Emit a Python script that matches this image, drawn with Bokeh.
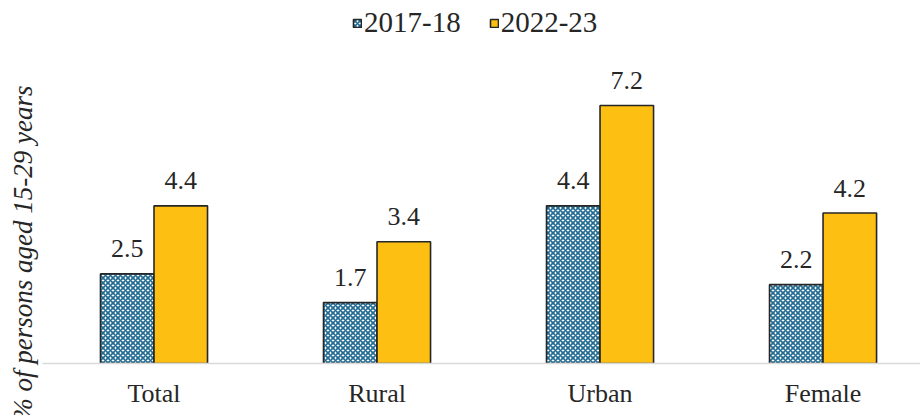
from bokeh.plotting import figure
from bokeh.models import (ColumnDataSource, Range1d, FixedTicker, Legend, LegendItem, Title)
from bokeh.core.properties import value
from bokeh.embed import file_html
from bokeh.resources import INLINE

categories = ["Total", "Rural", "Urban", "Female"]
series_names = ["2017-18", "2022-23"]
values_2017 = [2.5, 1.7, 4.4, 2.2]
values_2022 = [4.4, 3.4, 7.2, 4.2]
y_label = "% of persons aged 15-29 years"

FONT = "Liberation Serif"
BAR_W = 0.24
idx = list(range(len(categories)))

src_a = ColumnDataSource(dict(x=[i - BAR_W / 2 for i in idx], top=values_2017,
                              lbl=[f"{v:.1f}" for v in values_2017]))
src_b = ColumnDataSource(dict(x=[i + BAR_W / 2 for i in idx], top=values_2022,
                              lbl=[f"{v:.1f}" for v in values_2022]))

p = figure(width=920, height=415, output_backend="svg", toolbar_location=None,
           x_range=Range1d(-0.5, 3.437), y_range=Range1d(0, 10.131),
           min_border_left=42, min_border_right=0, min_border_top=0, min_border_bottom=52)
p.outline_line_color = None
p.background_fill_color = "white"
p.border_fill_color = "white"
p.xgrid.visible = False
p.ygrid.visible = False
p.yaxis.visible = False

r1 = p.vbar(x="x", top="top", width=BAR_W, source=src_a, fill_color="white",
            hatch_pattern="diagonal_cross", hatch_color="#216b93", hatch_scale=5, hatch_weight=1.7,
            line_color="#262626", line_width=1.6)
r2 = p.vbar(x="x", top="top", width=BAR_W, source=src_b, fill_color="#FCBF12",
            line_color="#262626", line_width=1.6)

for src in (src_a, src_b):
    p.text(x="x", y="top", text="lbl", source=src, text_align="center",
           text_baseline="alphabetic", y_offset=-25, text_font=value(FONT),
           text_font_size="26px", text_color="#262626")

xa = p.xaxis[0]
xa.ticker = FixedTicker(ticks=idx)
xa.major_label_overrides = {i: c for i, c in zip(idx, categories)}
xa.major_tick_line_color = None
xa.major_tick_out = 0
xa.major_tick_in = 0
xa.minor_tick_line_color = None
xa.minor_tick_out = 0
xa.axis_line_color = "#d9d9d9"
xa.axis_line_width = 1.5
xa.major_label_text_font = FONT
xa.major_label_text_font_size = "26px"
xa.major_label_text_color = "#262626"
xa.major_label_standoff = 15

legend = Legend(items=[LegendItem(label=series_names[0], renderers=[r1]),
                       LegendItem(label=series_names[1], renderers=[r2])],
                location=(310, 324), orientation="horizontal",
                label_text_font=FONT, label_text_font_size="29px",
                label_text_color="#262626",
                glyph_width=10, glyph_height=10, label_standoff=2, spacing=28,
                padding=0, margin=0, border_line_color=None, background_fill_alpha=0)
p.add_layout(legend, "center")

ylab = Title(text=y_label, align="right", offset=85, standoff=9, vertical_align="bottom",
             text_font=FONT, text_font_style="italic", text_font_size="27px",
             text_color="#262626")
p.add_layout(ylab, "left")

open("out.html", "w").write(file_html(p, INLINE))
